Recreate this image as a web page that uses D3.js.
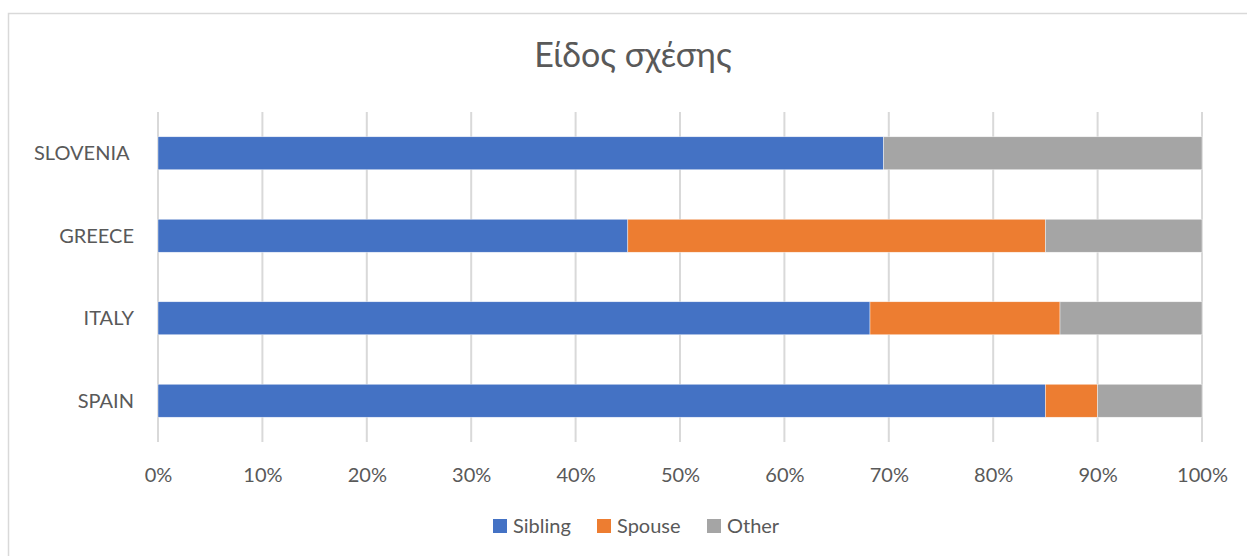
<!DOCTYPE html>
<html>
<head>
<meta charset="utf-8">
<script src="https://cdn.jsdelivr.net/npm/d3@7"></script>
<style>
  html, body { margin: 0; padding: 0; background: #fff; }
  svg text { font-family: Lato, "Open Sans", sans-serif; fill: #595959; }
</style>
</head>
<body>
<svg id="chart" width="1247" height="556"></svg>
<script>
const title = "Είδος σχέσης";
const categories = ["SLOVENIA\u00a0", "GREECE", "ITALY", "SPAIN"];
const seriesNames = ["Sibling", "Spouse", "Other"];
const sibling = [69.5, 45.0, 68.2, 85.0];
const spouse  = [0.0, 40.0, 18.2, 5.0];
const other   = [30.5, 15.0, 13.6, 10.0];
const colors = ["#4472c4", "#ed7d31", "#a5a5a5"];
const tickValues = [0, 10, 20, 30, 40, 50, 60, 70, 80, 90, 100];

const svg = d3.select("#chart");
const W = 1247, H = 556;
const plot = { left: 158, right: 1202, top: 112, bottom: 442 };

// chart frame
svg.append("rect")
  .attr("x", 8.5).attr("y", 13.5)
  .attr("width", W + 20).attr("height", H + 20)
  .attr("fill", "#fff").attr("stroke", "#d9d9d9").attr("stroke-width", 1.5);

const table = categories.map((c, i) => ({
  category: c, Sibling: sibling[i], Spouse: spouse[i], Other: other[i]
}));
const stack = d3.stack().keys(seriesNames)(table);

const x = d3.scaleLinear().domain([0, 100]).range([plot.left, plot.right]);
const y = d3.scaleBand().domain(categories).range([plot.top, plot.bottom])
  .paddingInner(0.6).paddingOuter(0.3);

// gridlines
svg.append("g")
  .selectAll("line").data(tickValues).join("line")
  .attr("x1", d => x(d)).attr("x2", d => x(d))
  .attr("y1", plot.top).attr("y2", plot.bottom)
  .attr("stroke", "#d9d9d9").attr("stroke-width", 2);

// bars
svg.append("g").selectAll("g").data(stack).join("g")
  .attr("fill", (d, i) => colors[i])
  .selectAll("rect").data(d => d).join("rect")
  .attr("x", d => x(d[0]))
  .attr("y", d => y(d.data.category))
  .attr("width", d => Math.max(0, x(d[1]) - x(d[0])))
  .attr("height", y.bandwidth())
  .attr("stroke", "#fff").attr("stroke-width", 0.6).attr("stroke-opacity", 0.7);

// x axis
const xAxis = d3.axisBottom(x).tickValues(tickValues).tickFormat(d => d + "%").tickSize(0).tickPadding(0);
const gx = svg.append("g").attr("transform", `translate(0, ${plot.bottom})`).call(xAxis);
gx.select(".domain").remove();
gx.selectAll("text")
  .attr("y", 40).attr("dy", null)
  .style("font-size", "20px").style("font-family", "Lato, 'Open Sans', sans-serif").attr("fill", "#595959");

// y axis
const yAxis = d3.axisLeft(y).tickSize(0).tickPadding(0);
const gy = svg.append("g").attr("transform", `translate(134, 0)`).call(yAxis);
gy.select(".domain").remove();
gy.selectAll("text")
  .attr("x", 0).attr("dy", "0.35em")
  .style("font-size", "20px").style("font-family", "Lato, 'Open Sans', sans-serif").attr("fill", "#595959")
  .style("white-space", "pre");

// title
svg.append("text")
  .attr("x", 633).attr("y", 67)
  .attr("text-anchor", "middle")
  .style("font-size", "34px")
  .text(title);

// legend
const legendX = [493, 597, 707];
const lg = svg.append("g").selectAll("g").data(seriesNames).join("g")
  .attr("transform", (d, i) => `translate(${legendX[i]}, 519)`);
lg.append("rect").attr("width", 14).attr("height", 14).attr("fill", (d, i) => colors[i]);
lg.append("text").attr("x", 20).attr("y", 14).style("font-size", "20px").text(d => d);
</script>
</body>
</html>
